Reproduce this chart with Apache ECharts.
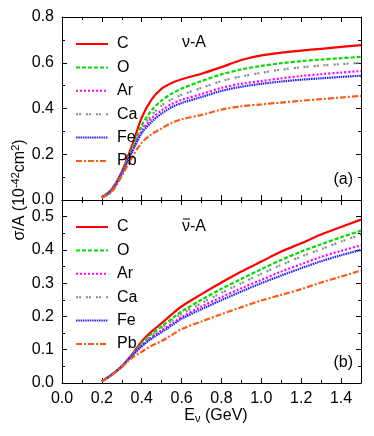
<!DOCTYPE html>
<html>
<head>
<meta charset="utf-8">
<script src="https://cdn.jsdelivr.net/npm/echarts@6/dist/echarts.min.js"></script>
<style>
  html, body { margin: 0; padding: 0; background: #fff; }
  #main { width: 374px; height: 436px; }
</style>
</head>
<body>
<div id="main"></div>
<script>
// energies (GeV)
const xs = [0.2, 0.25, 0.3, 0.35, 0.4, 0.45, 0.5, 0.55, 0.6, 0.7, 0.8, 0.9, 1.0, 1.1, 1.2, 1.3, 1.4, 1.5]
const names = ['C', 'O', 'Ar', 'Ca', 'Fe', 'Pb']

// (a) neutrino
const nuC  = [0.01, 0.048, 0.124, 0.235, 0.36, 0.44, 0.487, 0.512, 0.528, 0.552, 0.581, 0.612, 0.632, 0.644, 0.653, 0.661, 0.669, 0.677]
const nuO  = [0.01, 0.046, 0.12, 0.222, 0.326, 0.393, 0.435, 0.465, 0.487, 0.52, 0.549, 0.571, 0.586, 0.598, 0.607, 0.614, 0.62, 0.626]
const nuAr = [0.01, 0.043, 0.117, 0.212, 0.302, 0.357, 0.392, 0.42, 0.438, 0.463, 0.49, 0.508, 0.52, 0.532, 0.542, 0.55, 0.557, 0.564]
const nuCa = [0.01, 0.044, 0.118, 0.216, 0.312, 0.372, 0.413, 0.44, 0.46, 0.49, 0.52, 0.54, 0.556, 0.57, 0.58, 0.588, 0.594, 0.6]
const nuFe = [0.01, 0.041, 0.115, 0.207, 0.292, 0.342, 0.378, 0.405, 0.424, 0.45, 0.477, 0.495, 0.508, 0.518, 0.526, 0.532, 0.538, 0.543]
const nuPb = [0.01, 0.036, 0.105, 0.185, 0.25, 0.288, 0.313, 0.337, 0.353, 0.372, 0.395, 0.41, 0.418, 0.426, 0.434, 0.441, 0.448, 0.455]

// (b) antineutrino
const anC  = [0.005, 0.025, 0.05, 0.085, 0.125, 0.155, 0.18, 0.206, 0.23, 0.267, 0.302, 0.335, 0.365, 0.395, 0.42, 0.446, 0.469, 0.491]
const anO  = [0.005, 0.025, 0.05, 0.084, 0.12, 0.148, 0.17, 0.193, 0.215, 0.25, 0.283, 0.313, 0.342, 0.37, 0.395, 0.417, 0.438, 0.458]
const anAr = [0.005, 0.025, 0.05, 0.082, 0.113, 0.138, 0.158, 0.178, 0.198, 0.23, 0.258, 0.285, 0.31, 0.335, 0.357, 0.379, 0.397, 0.414]
const anCa = [0.005, 0.025, 0.05, 0.083, 0.117, 0.143, 0.165, 0.187, 0.208, 0.24, 0.271, 0.3, 0.328, 0.355, 0.38, 0.402, 0.425, 0.446]
const anFe = [0.005, 0.025, 0.05, 0.081, 0.11, 0.134, 0.153, 0.173, 0.193, 0.222, 0.249, 0.275, 0.3, 0.323, 0.345, 0.366, 0.384, 0.4]
const anPb = [0.005, 0.024, 0.048, 0.075, 0.094, 0.112, 0.126, 0.144, 0.162, 0.185, 0.207, 0.228, 0.248, 0.265, 0.282, 0.302, 0.32, 0.338]

const styles = {
    C:  { color: '#ff0000', type: 'solid' },
    O:  { color: '#00dd00', type: [4, 2] },
    Ar: { color: '#ff00ff', type: [2, 2] },
    Ca: { color: '#8c8c8c', type: [2, 1, 2, 5] },
    Fe: { color: '#2020ff', type: [1.5, 0.8] },
    Pb: { color: '#ff5a14', type: [6, 2, 2, 2] }
}

const font = 'Liberation Sans, Arial, sans-serif'
const myChart = echarts.init(document.getElementById('main'))

function xAxisOf(grid, pos, labels) {
    return {
        type: 'value', gridIndex: grid, position: pos, min: 0, max: 1.5, interval: 0.2,
        axisLine: { show: true, onZero: false, lineStyle: { color: '#000', width: 1 } },
        axisTick: { show: true, inside: true, length: 5, lineStyle: { color: '#000' } },
        minorTick: { show: true, splitNumber: 2, length: 3, lineStyle: { color: '#000' } },
        splitLine: { show: false },
        axisLabel: {
            show: labels, margin: 8, color: '#000', fontSize: 16, fontFamily: font,
            showMaxLabel: false,
            formatter: v => v.toFixed(1)
        }
    }
}

function yAxisOf(grid, pos, max, labels) {
    return {
        type: 'value', gridIndex: grid, position: pos, min: 0, max: max, interval: max > 0.6 ? 0.2 : 0.1,
        axisLine: { show: true, onZero: false, lineStyle: { color: '#000', width: 1 } },
        axisTick: { show: true, inside: true, length: 5, lineStyle: { color: '#000' } },
        minorTick: { show: true, splitNumber: 2, length: 3, lineStyle: { color: '#000' } },
        splitLine: { show: false },
        axisLabel: {
            show: labels, margin: 8, color: '#000', fontSize: 16, fontFamily: font,
            formatter: v => (Math.abs(v * 10 - Math.round(v * 10)) < 1e-6 ? v.toFixed(1) : '')
        }
    }
}

function makeSeries(arr, name, grid) {
    const s = styles[name]
    return {
        name: name, type: 'line', xAxisIndex: grid * 2, yAxisIndex: grid * 2,
        data: xs.map((x, i) => [x, arr[i]]),
        symbol: 'none', smooth: 0.3,
        lineStyle: { color: s.color, width: 2.2, type: s.type },
        itemStyle: { color: s.color }
    }
}

const nuSets = [nuC, nuO, nuAr, nuCa, nuFe, nuPb]
const anSets = [anC, anO, anAr, anCa, anFe, anPb]

function legendAt(top) {
    return {
        orient: 'vertical', left: 70, top: top, itemWidth: 32, itemHeight: 10, itemGap: 7.4,
        data: names,
        itemStyle: { opacity: 0 },
        textStyle: { color: '#000', fontSize: 16, fontFamily: font, padding: [0, 0, 0, 4] }
    }
}

myChart.setOption({
    animation: false,
    grid: [
        { left: 62, top: 17, width: 299, height: 183 },
        { left: 62, top: 200, width: 299, height: 183 }
    ],
    xAxis: [
        xAxisOf(0, 'bottom', false), xAxisOf(0, 'top', false),
        xAxisOf(1, 'bottom', true), xAxisOf(1, 'top', false)
    ],
    yAxis: [
        yAxisOf(0, 'left', 0.8, true), yAxisOf(0, 'right', 0.8, false),
        yAxisOf(1, 'left', 0.55, true), yAxisOf(1, 'right', 0.55, false)
    ],
    legend: [legendAt(31), legendAt(214)],
    series: [
        ...nuSets.map((a, i) => makeSeries(a, names[i], 0)),
        ...anSets.map((a, i) => makeSeries(a, names[i], 1))
    ],
    graphic: [
        { type: 'text', x: 182, y: 43, style: { text: 'ν-A', font: '16px ' + font, fill: '#000', verticalAlign: 'middle' } },
        { type: 'text', x: 182, y: 227, style: { text: 'ν-A', font: '16px ' + font, fill: '#000', verticalAlign: 'middle' } },
        { type: 'line', shape: { x1: 183, y1: 219, x2: 190, y2: 219 }, style: { stroke: '#000', lineWidth: 1 } },
        { type: 'text', x: 353, y: 180, style: { text: '(a)', font: '16px ' + font, fill: '#000', align: 'right', verticalAlign: 'middle' } },
        { type: 'text', x: 353, y: 363, style: { text: '(b)', font: '16px ' + font, fill: '#000', align: 'right', verticalAlign: 'middle' } },
        {
            type: 'text', x: 20, y: 190, rotation: Math.PI / 2,
            style: {
                text: 'σ/A (10{sup|-42}cm{sup|2})', font: '16px ' + font, fill: '#000',
                align: 'center', verticalAlign: 'middle',
                rich: { sup: { fontSize: 11, verticalAlign: 'top', padding: [0, 0, 8, 0], fontFamily: font } }
            }
        },
        {
            type: 'text', x: 216, y: 416,
            style: {
                text: 'E{sub|ν} (GeV)', font: '16px ' + font, fill: '#000',
                align: 'center', verticalAlign: 'middle',
                rich: { sub: { fontSize: 11, verticalAlign: 'bottom', padding: [6, 0, 0, 0], fontFamily: font } }
            }
        }
    ]
})
</script>
</body>
</html>
